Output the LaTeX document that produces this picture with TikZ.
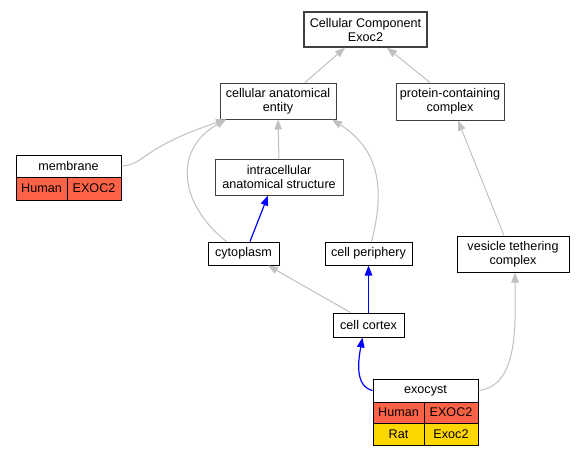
\documentclass[tikz,border=0pt]{standalone}
\usepackage{fontspec}
\setmainfont{Liberation Sans}
\usetikzlibrary{arrows.meta}
\definecolor{edgegray}{HTML}{C0C0C0}
\definecolor{humanred}{HTML}{FF6347}
\definecolor{ratgold}{HTML}{FFD700}
\begin{document}
\begin{tikzpicture}[x=1pt,y=-1pt,
    term/.style={draw=black!75,line width=1pt,fill=white,inner sep=0pt,align=center,
      font=\fontsize{12.6}{14}\selectfont},
    cell/.style={term,draw=black,minimum height=22pt},
    isa/.style={edgegray,line width=1pt,-{Triangle[length=10pt,width=7.5pt]}},
    partof/.style={blue,line width=1.2pt,-{Triangle[length=10pt,width=7.5pt]}}]
  \useasboundingbox (0,0) rectangle (577,456);
  % terms
  \node[term,line width=1.5pt,minimum width=123pt,minimum height=35pt] (root) at (365.5,29.5) {Cellular Component\\Exoc2};
  \node[term,minimum width=116pt,minimum height=36pt] (ent) at (278,101) {cellular anatomical\\entity};
  \node[term,minimum width=108pt,minimum height=37pt] (pcc) at (450,101.5) {protein-containing\\complex};
  \node[term,minimum width=128pt,minimum height=36pt] (intra) at (279,177) {intracellular\\anatomical structure};
  \node[term,draw=black,minimum width=71pt,minimum height=23pt] (cyto) at (243.5,253.5) {cytoplasm};
  \node[term,draw=black,minimum width=87pt,minimum height=23pt] (peri) at (368.5,253.5) {cell periphery};
  \node[term,draw=black,minimum width=112pt,minimum height=36pt] (vtc) at (513,254) {vesicle tethering\\complex};
  \node[term,draw=black,minimum width=71pt,minimum height=24pt] (cortex) at (368.5,325) {cell cortex};
  % membrane record
  \node[cell,minimum width=105pt] (memh) at (68.5,166) {membrane};
  \node[cell,fill=humanred,minimum width=51pt,minimum height=23pt] (memhs) at (41.5,188.5) {Human};
  \node[cell,fill=humanred,minimum width=54pt,minimum height=23pt] (memhg) at (94,188.5) {EXOC2};
  % exocyst record
  \node[cell,minimum width=105pt,minimum height=23pt] (exoh) at (425.5,390.5) {exocyst};
  \node[cell,fill=humanred,minimum width=51pt,minimum height=21pt] (exohs) at (398.5,412.5) {Human};
  \node[cell,fill=humanred,minimum width=54pt,minimum height=21pt] (exohg) at (451,412.5) {EXOC2};
  \node[cell,fill=ratgold,minimum width=51pt] (exors) at (398.5,434) {Rat};
  \node[cell,fill=ratgold,minimum width=54pt] (exorg) at (451,434) {Exoc2};
  % is_a
  \draw[isa] ([xshift=27pt]ent.north) -- ([xshift=-20.5pt]root.south);
  \draw[isa] ([xshift=-20pt]pcc.north) -- ([xshift=21.5pt]root.south);
  \draw[isa] (memh.east) .. controls (145,165) and (140,148) .. ([xshift=-52pt]ent.south);
  \draw[isa] ([xshift=-17pt]cyto.north) .. controls (180,205) and (172,150) .. ([xshift=-52pt]ent.south);
  \draw[isa] (intra.north) -- (ent.south);
  \draw[isa] ([xshift=3pt]peri.north) .. controls (385,190) and (380,150) .. ([xshift=54pt]ent.south);
  \draw[isa] ([xshift=-18pt]cortex.north) -- ([xshift=24.5pt]cyto.south);
  \draw[isa] ([xshift=-9pt]vtc.north) -- ([xshift=8pt]pcc.south);
  \draw[isa] (exoh.east) .. controls (520,386) and (515,320) .. ([xshift=2pt]vtc.south);
  % part_of
  \draw[partof] ([xshift=6.5pt]cyto.north) -- ([xshift=-11pt]intra.south);
  \draw[partof] (cortex.north) -- (peri.south);
  \draw[partof] (exoh.west) .. controls (355,386) and (358,362) .. ([xshift=-6pt]cortex.south);
\end{tikzpicture}
\end{document}
